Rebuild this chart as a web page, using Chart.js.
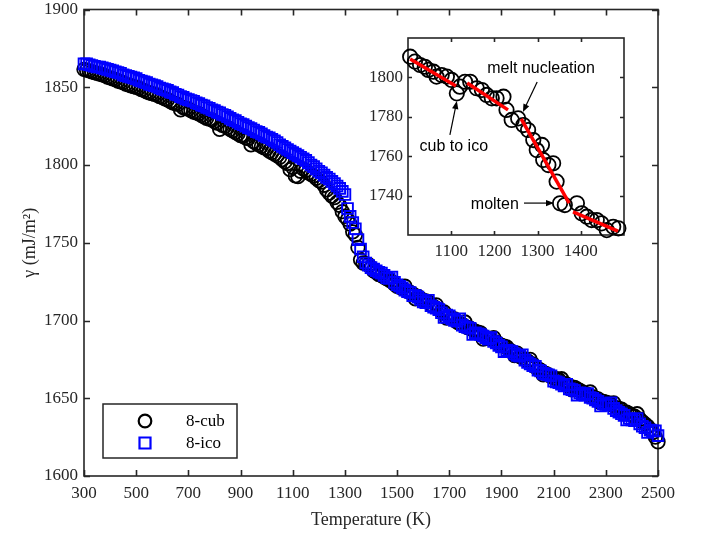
<!DOCTYPE html>
<html><head><meta charset="utf-8">
<script src="https://cdn.jsdelivr.net/npm/chart.js@4.4.0/dist/chart.umd.min.js"></script>
<style>
html,body{margin:0;padding:0;background:#fff;}
#wrap{position:relative;width:708px;height:536px;}
#main{position:absolute;left:0;top:0;}
#inset{position:absolute;left:340px;top:28px;}
</style></head><body>
<div id="wrap"><canvas id="main" width="708" height="536"></canvas><canvas id="inset" width="300" height="240"></canvas></div>
<script>
// ---------- data ----------
const temperature = [
300,310,320,330,340,350,360,370,380,390,400,410,420,430,440,450,460,470,480,490,
500,510,520,530,540,550,560,570,580,590,600,610,620,630,640,650,660,670,680,690,
700,710,720,730,740,750,760,770,780,790,800,810,820,830,840,850,860,870,880,890,
900,910,920,930,940,950,960,970,980,990,1000,1010,1020,1030,1040,1050,1060,1070,1080,1090,
1100,1110,1120,1130,1140,1150,1160,1170,1180,1190,1200,1210,1220,1230,1240,1250,1260,1270,1280,1290,
1300,1310,1320,1330,1340,1350,1360,1370,1380,1390,1400,1410,1420,1430,1440,1450,1460,1470,1480,1490,
1500,1510,1520,1530,1540,1550,1560,1570,1580,1590,1600,1610,1620,1630,1640,1650,1660,1670,1680,1690,
1700,1710,1720,1730,1740,1750,1760,1770,1780,1790,1800,1810,1820,1830,1840,1850,1860,1870,1880,1890,
1900,1910,1920,1930,1940,1950,1960,1970,1980,1990,2000,2010,2020,2030,2040,2050,2060,2070,2080,2090,
2100,2110,2120,2130,2140,2150,2160,2170,2180,2190,2200,2210,2220,2230,2240,2250,2260,2270,2280,2290,
2300,2310,2320,2330,2340,2350,2360,2370,2380,2390,2400,2410,2420,2430,2440,2450,2460,2470,2480,2490,2500];

const gammaCub = [
1861.5,1861,1860.5,1860,1859.5,1859,1858.5,1858,1857.5,1856.5,
1856,1855.5,1855,1854,1853.5,1853,1852,1851.5,1851,1850.5,
1850,1849.5,1848.5,1848,1847,1846.5,1846,1845.5,1845,1844,
1843.5,1842.5,1842,1841,1840,1839.5,1839,1835.5,1837,1836.5,
1836,1835,1834,1833.5,1833,1832,1831,1830,1829.5,1829,
1828,1827,1823,1825.5,1825,1824,1823,1822,1821,1820,
1819,1818.5,1817.5,1817,1813,1815,1814,1813,1812,1811,
1810.5,1809,1808,1807,1806,1805,1803.5,1802,1801,1797,
1798.5,1793,1792.5,1796,1797.5,1796.5,1795,1794,1793,1791.5,
1790,1789,1787,1784,1782,1780,1779,1776,1774,1770,
1767,1765,1762,1757,1755,1747,1739,1737,1736.5,1736,
1734,1732,1731,1729.5,1729,1728,1727,1726,1725,1723.5,
1722,1721.5,1720.5,1722,1719,1718,1717,1714,1715.5,1714,
1713,1712.5,1712,1710,1709,1710,1707,1706,1705.5,1701.5,
1702,1701.5,1701,1699,1698,1697.5,1699,1695.5,1695,1694,
1693,1692.5,1692,1688,1689,1688.5,1688,1689,1686,1685,
1684,1683.5,1683,1681,1680,1677.5,1679,1677,1676,1675,
1674,1675,1672,1670,1669,1668,1665,1666,1665,1664,
1663,1662.5,1662,1662.5,1659.5,1659,1658,1655.5,1657,1656,
1655,1654,1653,1652.5,1654,1651,1650,1649.5,1647,1648,
1647.5,1647,1646,1647,1644,1643.5,1643,1640,1641,1640,
1639,1638.5,1640,1636.5,1635,1633.5,1632,1630,1628,1625,
1622];

const gammaIco = [
1865,1865,1864.5,1864,1863.5,1863,1863,1862.5,1862,1861.5,
1861,1860.5,1860,1859.5,1859,1858,1857.5,1857,1856.5,1856,
1855.5,1854.5,1854,1853.5,1853,1852,1851.5,1851,1850.5,1849.5,
1849,1848.5,1848,1847,1846.5,1845.5,1845,1844,1843.5,1842.5,
1842,1841.5,1841,1840,1839.5,1838.5,1838,1837,1836.5,1835.5,
1835,1834,1833.5,1832.5,1832,1831,1830,1829,1828.5,1827.5,
1826.5,1826,1825,1824,1823.5,1822.5,1821.5,1821,1820,1819,
1818,1817.5,1816.5,1815.5,1814.5,1813,1812,1811,1810,1809,
1808,1807,1806,1805,1804,1803,1801.5,1800,1799,1797.5,
1796,1795,1793.5,1792,1791,1789.5,1788,1786.5,1785,1783,
1781,1772,1767,1763,1759,1752,1746,1741,1737,1735.5,
1734,1733,1732,1731,1730.5,1729,1727.5,1727,1728,1724.5,
1723,1722,1721,1719.5,1718.5,1718,1716,1716,1715,1713.5,
1712,1711.5,1713,1709.5,1708.5,1708,1707,1705,1702,1703.5,
1703,1701,1700,1699.5,1701,1697,1696,1695.5,1695,1691,
1692,1691.5,1691,1690,1689,1688,1689,1686.5,1685.5,1684,
1683,1680,1681,1680.5,1680,1678.5,1677.5,1677,1678,1674.5,
1673,1672,1671,1670.5,1668,1667.5,1666,1665.5,1665,1664.5,
1661,1660.5,1660,1659,1658,1659,1656,1655.5,1655,1652,
1653.5,1653,1652,1653,1650.5,1650,1649,1648,1645,1646.5,
1646,1645.5,1647,1643.5,1642,1641,1640,1639,1636,1637,
1636,1635.5,1637,1633.5,1632,1631,1628,1629.5,1629,1629,
1626];

// inset (8-cub, zoom on 1000-1500 K)
const insetTemperature = [1005,1016,1028,1039,1047,1059,1066,1078,1090,1101,1113,1120,1132,1144,1159,1171,1182,1194,1205,1221,1228,1240,1255,1267,1278,1290,1298,1310,1313,1325,1336,1344,1352,1363,1391,1402,1414,1425,1437,1448,1460,1475,1487];
const insetGamma = [1810.5,1808,1806.3,1805.4,1803.8,1802.9,1800.4,1801.2,1800.4,1798.7,1791.9,1795.3,1797.8,1797.8,1794.5,1793.6,1791.1,1789.4,1789.4,1790.2,1783.5,1778.4,1779.2,1775.8,1773.3,1768.2,1763.1,1765.7,1758.1,1755.5,1756.4,1747.1,1736.1,1735.2,1736.1,1731,1729.3,1727.6,1727.6,1725.9,1722.5,1724.2,1723.4];
// linear fits (segments)
const fitTemperature = [[1005,1111],[1137,1231.5],[1262,1373],[1382,1486]];
const fitGamma = [[1809.3,1795.6],[1797.2,1783.5],[1778.9,1736.2],[1731.7,1722]];

// tick labels
const xTicks = [300,500,700,900,1100,1300,1500,1700,1900,2100,2300,2500];
const yTicks = [1600,1650,1700,1750,1800,1850,1900];
const insetXTicks = [1100,1200,1300,1400];
const insetYTicks = [1740,1760,1780,1800];
const seriesNames = ['8-cub','8-ico'];

// ---------- helpers ----------
const AX = '#262626';
const SERIF = '"Liberation Serif","Times New Roman",serif';
const SANS = '"Liberation Sans",Arial,sans-serif';
const pts = (xs, ys) => xs.map((x, i) => ({x, y: ys[i]}));
const noPad = s => { s.paddingTop = 0; s.paddingBottom = 0; s.paddingLeft = 0; s.paddingRight = 0; };

const framePlugin = {
  id: 'frame',
  beforeDatasetsDraw(chart, args, o) {
    const {ctx, chartArea: a, scales} = chart;
    ctx.save();
    ctx.strokeStyle = AX; ctx.lineWidth = o.lw;
    ctx.strokeRect(a.left, a.top, a.right - a.left, a.bottom - a.top);
    ctx.beginPath();
    scales.x.ticks.forEach(t => {
      const p = Math.round(scales.x.getPixelForValue(t.value)) + 0.5;
      ctx.moveTo(p, a.bottom); ctx.lineTo(p, a.bottom - o.len);
      ctx.moveTo(p, a.top); ctx.lineTo(p, a.top + o.len);
    });
    scales.y.ticks.forEach(t => {
      const p = Math.round(scales.y.getPixelForValue(t.value)) + 0.5;
      ctx.moveTo(a.left, p); ctx.lineTo(a.left + o.len, p);
      ctx.moveTo(a.right, p); ctx.lineTo(a.right - o.len, p);
    });
    ctx.stroke();
    ctx.restore();
  }
};

const legendPlugin = {
  id: 'boxLegend',
  afterDraw(chart) {
    const {ctx, chartArea: a} = chart;
    const bx = a.left + 19, by = a.bottom - 72, bw = 134, bh = 54;
    ctx.save();
    ctx.fillStyle = '#fff'; ctx.fillRect(bx, by, bw, bh);
    ctx.strokeStyle = AX; ctx.lineWidth = 1.5; ctx.strokeRect(bx, by, bw, bh);
    chart.data.datasets.slice().sort((p, q) => p.legendIndex - q.legendIndex).forEach((ds, i) => {
      const cy = by + 17 + i * 22;
      ctx.strokeStyle = ds.borderColor; ctx.lineWidth = 2.2;
      ctx.beginPath();
      if (ds.pointStyle === 'circle') ctx.arc(bx + 42, cy, 6.3, 0, Math.PI * 2);
      else ctx.rect(bx + 42 - 5.5, cy - 5.5, 11, 11);
      ctx.stroke();
      ctx.fillStyle = '#000'; ctx.font = '17px ' + SERIF;
      ctx.textAlign = 'left'; ctx.textBaseline = 'middle';
      ctx.fillText(ds.label, bx + 83, cy + 1);
    });
    ctx.restore();
  }
};

// ---------- main chart ----------
new Chart(document.getElementById('main'), {
  type: 'scatter',
  data: {
    datasets: [
      {label: seriesNames[0], legendIndex: 0, order: 2, data: pts(temperature, gammaCub), pointStyle: 'circle', pointRadius: 6.8,
       borderColor: '#000', backgroundColor: 'rgba(0,0,0,0)', pointBorderWidth: 1.8, clip: false},
      {label: seriesNames[1], legendIndex: 1, order: 1, data: pts(temperature, gammaIco), pointStyle: 'rect', pointRadius: 7.6,
       borderColor: '#0000ff', backgroundColor: 'rgba(0,0,0,0)', pointBorderWidth: 1.9, clip: false}
    ]
  },
  options: {
    responsive: false, animation: false, devicePixelRatio: 1,
    layout: {padding: {top: 8, right: 50, left: 0, bottom: 0}},
    plugins: {legend: {display: false}, tooltip: {enabled: false}, frame: {lw: 1.6, len: 6}},
    scales: {
      x: {
        type: 'linear', min: 300, max: 2500,
        afterBuildTicks: s => { s.ticks = xTicks.map(v => ({value: v})); },
        afterFit: s => { s.height = 60; noPad(s); },
        grid: {display: false, drawTicks: false}, border: {display: false},
        ticks: {color: AX, font: {family: SERIF, size: 17}, padding: 7, maxRotation: 0, autoSkip: false, callback: v => String(v)},
        title: {display: true, text: 'Temperature (K)', color: AX, font: {family: SERIF, size: 18}, padding: {top: 0, bottom: 5}}
      },
      y: {
        type: 'linear', min: 1600, max: 1900,
        afterBuildTicks: s => { s.ticks = yTicks.map(v => ({value: v})); },
        afterFit: s => { s.width = 84; noPad(s); },
        grid: {display: false, drawTicks: false}, border: {display: false},
        ticks: {color: AX, font: {family: SERIF, size: 17}, padding: 6, autoSkip: false, callback: v => String(v)},
        title: {display: true, text: 'γ (mJ/m²)', color: AX, font: {family: SERIF, size: 18}, padding: {top: 19, bottom: 0}}
      }
    }
  },
  plugins: [framePlugin, legendPlugin]
});

// ---------- inset ----------
const insetBg = {
  id: 'insetBg',
  beforeDraw(chart) {
    const {ctx, chartArea: a} = chart;
    ctx.save(); ctx.fillStyle = '#fff'; ctx.fillRect(a.left, a.top, a.right - a.left, a.bottom - a.top); ctx.restore();
  }
};
function arrow(ctx, x0, y0, x1, y1) {
  const ang = Math.atan2(y1 - y0, x1 - x0), L = 8, W = 3.2;
  ctx.beginPath(); ctx.moveTo(x0, y0); ctx.lineTo(x1 - Math.cos(ang) * L * 0.8, y1 - Math.sin(ang) * L * 0.8); ctx.stroke();
  ctx.beginPath();
  ctx.moveTo(x1, y1);
  ctx.lineTo(x1 - L * Math.cos(ang) + W * Math.sin(ang), y1 - L * Math.sin(ang) - W * Math.cos(ang));
  ctx.lineTo(x1 - L * Math.cos(ang) - W * Math.sin(ang), y1 - L * Math.sin(ang) + W * Math.cos(ang));
  ctx.closePath(); ctx.fill();
}
const notes = [
  {text: 'melt nucleation', at: [1308, 1804.3], from: [1299, 1797.7], to: [1266, 1782.4]},
  {text: 'cub to ico', at: [1106, 1764.7], from: [1097, 1770.8], to: [1113, 1788]},
  {text: 'molten', at: [1201, 1735.2], from: [1268.5, 1736.2], to: [1338, 1736.2]}
];
const notePlugin = {
  id: 'notes',
  afterDatasetsDraw(chart) {
    const {ctx, scales: {x, y}} = chart;
    ctx.save();
    ctx.fillStyle = '#000'; ctx.strokeStyle = '#000'; ctx.lineWidth = 1.2;
    ctx.font = '16px ' + SANS; ctx.textAlign = 'center'; ctx.textBaseline = 'middle';
    notes.forEach(n => {
      ctx.fillText(n.text, x.getPixelForValue(n.at[0]), y.getPixelForValue(n.at[1]));
      arrow(ctx, x.getPixelForValue(n.from[0]), y.getPixelForValue(n.from[1]), x.getPixelForValue(n.to[0]), y.getPixelForValue(n.to[1]));
    });
    ctx.restore();
  }
};

const fitSets = fitTemperature.map((xs, i) => ({
  data: pts(xs, fitGamma[i]), showLine: true, borderColor: '#ff0000', borderWidth: 3.5,
  pointRadius: 0, order: 1, borderCapStyle: 'butt'
}));

new Chart(document.getElementById('inset'), {
  type: 'scatter',
  data: {
    datasets: [
      {data: pts(insetTemperature, insetGamma), pointStyle: 'circle', pointRadius: 7.2, borderColor: '#000',
       backgroundColor: 'rgba(0,0,0,0)', pointBorderWidth: 1.8, order: 2, clip: false},
      ...fitSets
    ]
  },
  options: {
    responsive: false, animation: false, devicePixelRatio: 1,
    layout: {padding: {top: 10, right: 16, left: 0, bottom: 0}},
    plugins: {legend: {display: false}, tooltip: {enabled: false}, frame: {lw: 1.6, len: 4}},
    scales: {
      x: {
        type: 'linear', min: 1000, max: 1500,
        afterBuildTicks: s => { s.ticks = insetXTicks.map(v => ({value: v})); },
        afterFit: s => { s.height = 33; noPad(s); },
        grid: {display: false, drawTicks: false}, border: {display: false},
        ticks: {color: AX, font: {family: SERIF, size: 17}, padding: 6, maxRotation: 0, autoSkip: false, callback: v => String(v)}
      },
      y: {
        type: 'linear', min: 1720, max: 1820,
        afterBuildTicks: s => { s.ticks = insetYTicks.map(v => ({value: v})); },
        afterFit: s => { s.width = 68; noPad(s); },
        grid: {display: false, drawTicks: false}, border: {display: false},
        ticks: {color: AX, font: {family: SERIF, size: 17}, padding: 5, autoSkip: false, callback: v => String(v)}
      }
    }
  },
  plugins: [insetBg, framePlugin, notePlugin]
});
</script>
</body></html>
